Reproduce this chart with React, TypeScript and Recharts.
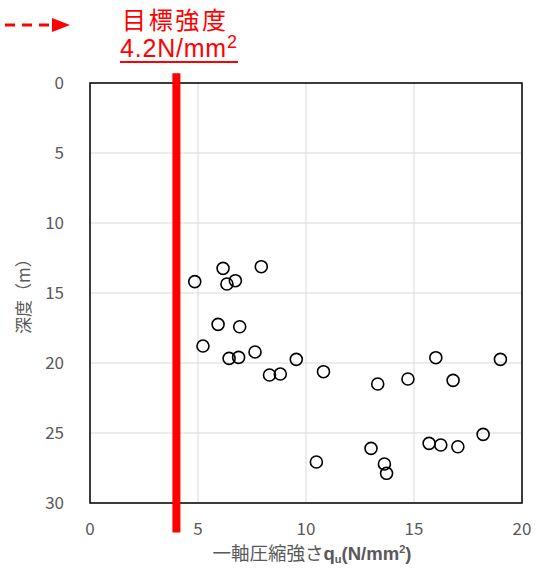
import {
  ScatterChart,
  Scatter,
  XAxis,
  YAxis,
  CartesianGrid,
  ReferenceLine,
  ReferenceArea,
} from 'recharts'

// 一軸圧縮強さ qu (N/mm2)
const strength = [
  4.85, 6.16, 7.93, 6.34, 6.73, 5.93, 6.93, 5.23, 6.44, 6.88, 7.64, 9.55, 8.31, 8.81,
  10.81, 16.01, 19.0, 13.32, 14.72, 16.81, 18.2, 15.7, 16.24, 17.03, 13.01, 13.63,
  13.73, 10.48,
]

// 深度 (m)
const depth = [
  14.19, 13.24, 13.12, 14.36, 14.12, 17.24, 17.41, 18.79, 19.67, 19.6, 19.21, 19.74,
  20.86, 20.79, 20.62, 19.62, 19.74, 21.5, 21.14, 21.24, 25.1, 25.74, 25.86, 25.98,
  26.1, 27.21, 27.88, 27.07,
]

const xTicks = [0, 5, 10, 15, 20]
const yTicks = [0, 5, 10, 15, 20, 25, 30]
const targetLineX = 4.0

const points = strength.map((x, i) => ({ x, y: depth[i] }))

const FONT = '"Noto Sans CJK JP", "Noto Sans", sans-serif'
const LATIN = 'Arial, "Liberation Sans", sans-serif'
const GREY = '#595959'

const ring = (props: any) => (
  <circle cx={props.cx} cy={props.cy} r={6} fill="none" stroke="#000" strokeWidth={1.6} />
)

export default function App() {
  return (
    <div style={{ position: 'absolute', left: 0, top: 0, width: 540, height: 570, background: '#fff' }}>
      <ScatterChart
        width={540}
        height={570}
        margin={{ top: 83, right: 18, bottom: 37, left: 10 }}
        style={{ fontFamily: FONT }}
      >
        <CartesianGrid stroke="#d9d9d9" strokeWidth={1} />
        <XAxis
          type="number"
          dataKey="x"
          domain={[0, 20]}
          ticks={xTicks}
          height={30}
          tickLine={false}
          axisLine={false}
          tickMargin={14}
          tick={{ fill: GREY, fontSize: 17 }}
          label={{
            value: '一軸圧縮強さ',
            position: 'insideBottom',
            content: () => (
              <text x={312} y={560} textAnchor="middle" fill={GREY} fontSize={18.5} fontFamily={FONT}>
                一軸圧縮強さ
                <tspan fontWeight="bold" fontFamily={LATIN}>q</tspan>
                <tspan fontWeight="bold" fontSize={11} dy={3} fontFamily={LATIN}>u</tspan>
                <tspan fontWeight="bold" dy={-3} fontFamily={LATIN}>(N/mm</tspan>
                <tspan fontWeight="bold" fontSize={11} dy={-7} fontFamily={LATIN}>2</tspan>
                <tspan fontWeight="bold" dy={7} fontFamily={LATIN}>)</tspan>
              </text>
            ),
          }}
        />
        <YAxis
          type="number"
          dataKey="y"
          domain={[0, 30]}
          ticks={yTicks}
          reversed
          width={80}
          tickLine={false}
          axisLine={false}
          tickMargin={20}
          tick={{ fill: GREY, fontSize: 17 }}
          label={{
            value: '深度（m）',
            angle: -90,
            position: 'insideLeft',
            content: () => (
              <text
                x={30}
                y={292}
                textAnchor="middle"
                fill={GREY}
                fontSize={17}
                fontFamily={FONT}
                transform="rotate(-90 30 292)"
              >
                深度（m）
              </text>
            ),
          }}
        />
        <ReferenceArea
          x1={0}
          x2={20}
          y1={0}
          y2={30}
          fill="none"
          stroke="#000"
          strokeWidth={1.5}
          ifOverflow="visible"
        />
        <ReferenceLine
          segment={[
            { x: targetLineX, y: -0.7 },
            { x: targetLineX, y: 32.1 },
          ]}
          stroke="#ff0000"
          strokeWidth={8}
          ifOverflow="visible"
        />
        <Scatter data={points} shape={ring} isAnimationActive={false} />
      </ScatterChart>
      <svg
        width={540}
        height={75}
        style={{ position: 'absolute', left: 0, top: 0, pointerEvents: 'none' }}
      >
        <line x1={5} y1={25} x2={56} y2={25} stroke="#ff0000" strokeWidth={3} strokeDasharray="10 7" />
        <polygon points="52,18 70,25 52,32" fill="#ff0000" />
        <text x={174} y={29} textAnchor="middle" fill="#ff0000" fontSize={24} fontFamily={FONT} textLength={104}>
          目標強度
        </text>
        <text x={120} y={57} fill="#ff0000" fontSize={25} fontFamily={LATIN} textLength={117}>
          4.2N/mm
          <tspan fontSize={18} dy={-9}>2</tspan>
        </text>
        <line x1={120} y1={62} x2={238} y2={62} stroke="#ff0000" strokeWidth={2} />
      </svg>
    </div>
  )
}
